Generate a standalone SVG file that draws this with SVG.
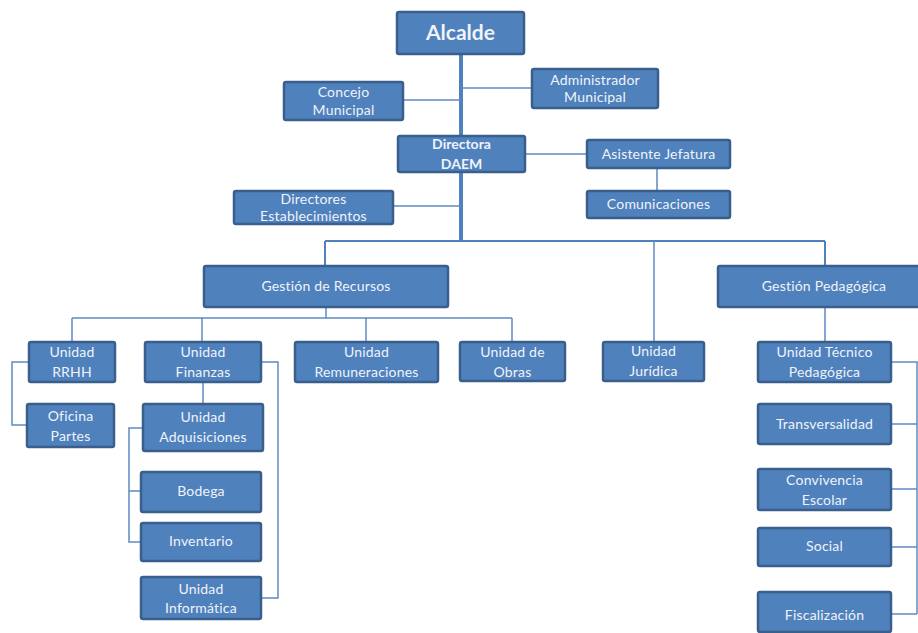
<svg xmlns="http://www.w3.org/2000/svg" width="918" height="633" viewBox="0 0 918 633">
<style>
.box{fill:#4F81BD;stroke:#3A5F8C;stroke-width:2.5}
.t{font-family:Lato,"Open Sans","Liberation Sans",sans-serif;font-size:14px;letter-spacing:0.2px;fill:#F0F3F9;text-anchor:middle}
.b{font-weight:bold;letter-spacing:0}
.ln{fill:none;stroke:#5E8AC4;stroke-width:1.5}
.bus{fill:none;stroke:#4F81BD;stroke-width:2}
</style>
<rect width="918" height="633" fill="#FFFFFF"/>
<g id="connectors">
<path class="ln" d="M461,54V241" style="stroke:#4F81BD;stroke-width:4"/>
<path class="ln" d="M403,100H461M461,88H532M525,154H587M657,168V191M393,206H461"/>
<path class="bus" d="M325,241H825M325,241V266M825,241V266"/>
<path class="ln" d="M654,241V342"/>
<path class="ln" d="M326,307V318M72,318H512M72,318V342M202,318V342M366,318V342M512,318V342"/>
<path class="ln" d="M29,362H12V425H27"/>
<path class="ln" d="M203,382V404M261,362H278V598H261"/>
<path class="ln" d="M143,428H129V542H141M129,491H141"/>
<path class="ln" d="M825,307V342"/>
<path class="ln" d="M891,362H917V614M891,424H917M891,489H917M891,547H917M891,614H917"/>
</g>
<g id="alcalde"><rect class="box" x="397" y="12" width="127" height="42" rx="2"/><text class="t b" x="460.5" y="40" style="font-size:21px">Alcalde</text></g>
<g id="concejo"><rect class="box" x="284" y="82" width="119" height="38" rx="2"/><text class="t" x="343.5" y="97">Concejo</text><text class="t" x="343.5" y="114.5">Municipal</text></g>
<g id="administrador"><rect class="box" x="532" y="69" width="126" height="39" rx="2"/><text class="t" x="595" y="84.5">Administrador</text><text class="t" x="595" y="102">Municipal</text></g>
<g id="directora"><rect class="box" x="398" y="136" width="127" height="36" rx="2"/><text class="t b" x="461.5" y="149">Directora</text><text class="t b" x="461.5" y="169">DAEM</text></g>
<g id="asistente"><rect class="box" x="587" y="140" width="143" height="28" rx="2"/><text class="t" x="658.5" y="158.5">Asistente Jefatura</text></g>
<g id="comunicaciones"><rect class="box" x="587" y="191" width="143" height="27" rx="2"/><text class="t" x="658.5" y="209">Comunicaciones</text></g>
<g id="directores"><rect class="box" x="234" y="191" width="159" height="33" rx="2"/><text class="t" x="313.5" y="203.5">Directores</text><text class="t" x="313.5" y="220.5">Establecimientos</text></g>
<g id="gestion-recursos"><rect class="box" x="204" y="266" width="244" height="41" rx="2"/><text class="t" x="326" y="291">Gestión de Recursos</text></g>
<g id="gestion-pedagogica"><rect class="box" x="718" y="266" width="214" height="41" rx="2"/><text class="t" x="824" y="291">Gestión Pedagógica</text></g>
<g id="rrhh"><rect class="box" x="29" y="342" width="86" height="40" rx="2"/><text class="t" x="72" y="357">Unidad</text><text class="t" x="72" y="377">RRHH</text></g>
<g id="finanzas"><rect class="box" x="145" y="342" width="116" height="40" rx="2"/><text class="t" x="203" y="357">Unidad</text><text class="t" x="203" y="377">Finanzas</text></g>
<g id="remuneraciones"><rect class="box" x="295" y="342" width="143" height="40" rx="2"/><text class="t" x="366.5" y="357">Unidad</text><text class="t" x="366.5" y="377">Remuneraciones</text></g>
<g id="obras"><rect class="box" x="460" y="342" width="105" height="39" rx="2"/><text class="t" x="512.5" y="357">Unidad de</text><text class="t" x="512.5" y="377">Obras</text></g>
<g id="juridica"><rect class="box" x="603" y="342" width="101" height="39" rx="2"/><text class="t" x="653.5" y="356">Unidad</text><text class="t" x="653.5" y="375.5">Jurídica</text></g>
<g id="utp"><rect class="box" x="758" y="342" width="133" height="40" rx="2"/><text class="t" x="824.5" y="357">Unidad Técnico</text><text class="t" x="824.5" y="377">Pedagógica</text></g>
<g id="oficina"><rect class="box" x="27" y="404" width="87" height="43" rx="2"/><text class="t" x="70.5" y="421">Oficina</text><text class="t" x="70.5" y="440.5">Partes</text></g>
<g id="adquisiciones"><rect class="box" x="143" y="404" width="120" height="47" rx="2"/><text class="t" x="203" y="422">Unidad</text><text class="t" x="203" y="442">Adquisiciones</text></g>
<g id="bodega"><rect class="box" x="141" y="472" width="120" height="40" rx="2"/><text class="t" x="201" y="496">Bodega</text></g>
<g id="inventario"><rect class="box" x="141" y="523" width="120" height="38" rx="2"/><text class="t" x="201" y="546">Inventario</text></g>
<g id="informatica"><rect class="box" x="141" y="577" width="120" height="42" rx="2"/><text class="t" x="201" y="593.5">Unidad</text><text class="t" x="201" y="613">Informática</text></g>
<g id="transversalidad"><rect class="box" x="758" y="404" width="133" height="40" rx="2"/><text class="t" x="824.5" y="428.5">Transversalidad</text></g>
<g id="convivencia"><rect class="box" x="758" y="469" width="133" height="41" rx="2"/><text class="t" x="824.5" y="485">Convivencia</text><text class="t" x="824.5" y="504.5">Escolar</text></g>
<g id="social"><rect class="box" x="758" y="528" width="133" height="38" rx="2"/><text class="t" x="824.5" y="551">Social</text></g>
<g id="fiscalizacion"><rect class="box" x="758" y="592" width="133" height="40" rx="2"/><text class="t" x="824.5" y="620">Fiscalización</text></g>
</svg>
